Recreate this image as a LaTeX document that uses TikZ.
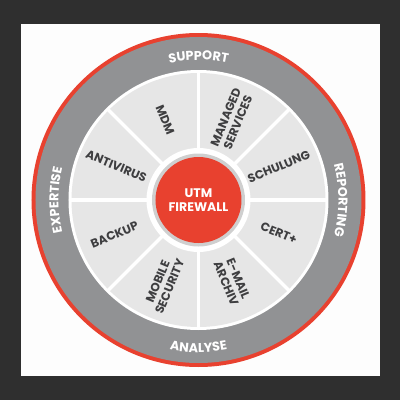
\documentclass[tikz,border=0pt]{standalone}
\usepackage{fontspec}
\setmainfont{Poppins}
\usetikzlibrary{decorations.text}
\definecolor{bgdark}{HTML}{2F2F2F}
\definecolor{paper}{HTML}{FDFDFD}
\definecolor{utmred}{HTML}{E8412F}
\definecolor{ringgray}{HTML}{919294}
\definecolor{seggray}{HTML}{E6E6E6}
\definecolor{textgray}{HTML}{3E3E40}
\definecolor{hubgray}{HTML}{CFCFCF}
\newcommand{\ringfont}{\bfseries\fontsize{12.8}{12.8}\selectfont}
\begin{document}
\begin{tikzpicture}[x=1pt,y=1pt,
  seglabel/.style={text=textgray,font=\bfseries\fontsize{12}{13}\selectfont,align=center,inner sep=0pt},
  hublabel/.style={circle,fill=utmred,minimum size=86pt,inner sep=0pt,text=white,align=center,font=\bfseries\fontsize{12.5}{14}\selectfont},
  ringtext/.style={decorate,decoration={text along path,text align=center,text={|\ringfont\color{white}|#1}}}]
\useasboundingbox (-198.5,-200) rectangle (201.5,200);
\fill[bgdark] (-198.5,-200) rectangle (201.5,200);
\fill[paper] (-177.5,-176) rectangle (181.5,176);
% outer rings
\fill[utmred] (0,0) circle (167);
\fill[ringgray] (0,0) circle (163);
\fill[white] (0,0) circle (130);
\fill[seggray] (0,0) circle (127);
\foreach \a in {0,45,...,315} \draw[white,line width=3.5pt] (0,0) -- (\a:128);
\fill[white] (0,0) circle (52);
\fill[hubgray] (0,0) circle (46.5);
\node[hublabel] (hub) at (0,0) {UTM\\FIREWALL};
% ring texts
\path[ringtext=SUPPORT] (122:140) arc[start angle=122,end angle=58,radius=140];
\path[ringtext=REPORTING] (32:140) arc[start angle=32,end angle=-32,radius=140];
\path[ringtext=EXPERTISE] (212:140) arc[start angle=212,end angle=148,radius=140];
\path[ringtext=ANALYSE] (238:152.5) arc[start angle=238,end angle=302,radius=152.5];
% segment labels
\node[seglabel,rotate=-67.5] (mdm) at (112.5:87) {MDM};
\node[seglabel,rotate=67.5] (managed) at (67.5:87) {MANAGED\\SERVICES};
\node[seglabel,rotate=22.5] (schulung) at (22.5:87) {SCHULUNG};
\node[seglabel,rotate=-22.5] (cert) at (-22.5:87) {CERT+};
\node[seglabel,rotate=-67.5] (email) at (-67.5:88) {E-MAIL\\ARCHIV};
\node[seglabel,rotate=67.5] (mobile) at (-112.5:91) {MOBILE\\SECURITY};
\node[seglabel,rotate=22.5] (backup) at (202.5:91) {BACKUP};
\node[seglabel,rotate=-22.5] (antivirus) at (157.5:89) {ANTIVIRUS};
\end{tikzpicture}
\end{document}
